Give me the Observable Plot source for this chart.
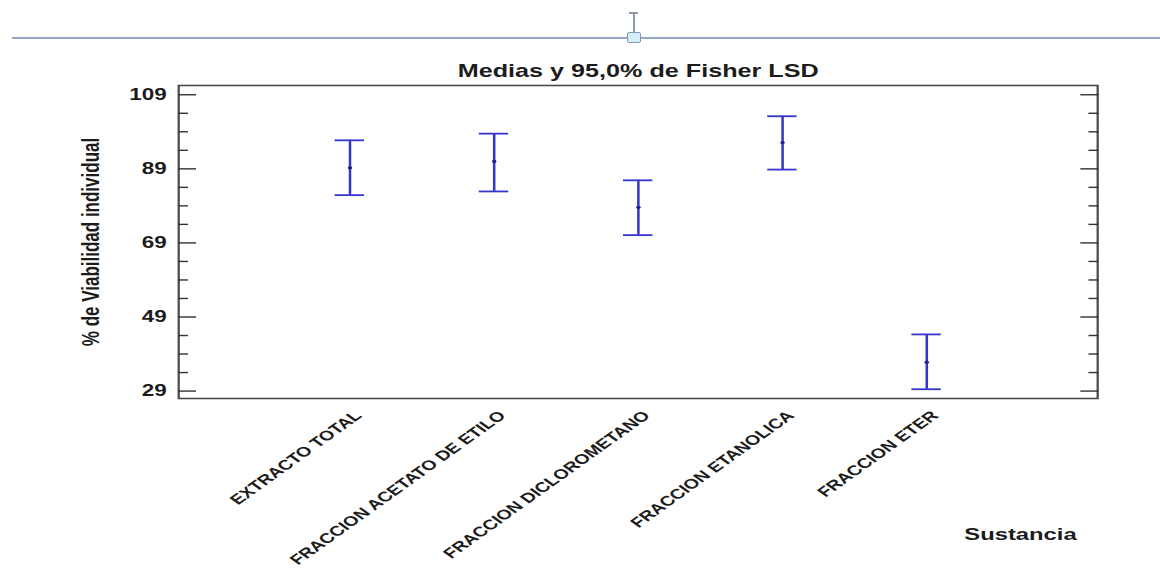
<!DOCTYPE html>
<html>
<head>
<meta charset="utf-8">
<script src="https://cdn.jsdelivr.net/npm/d3@7"></script>
<script src="https://cdn.jsdelivr.net/npm/@observablehq/plot@0.6"></script>
<style>
  html, body { margin: 0; padding: 0; background: #fff; }
  #page { position: relative; width: 1160px; height: 568px; overflow: hidden; background: #fff; }
  #chart { position: absolute; left: 0; top: 0; }
  /* document ruler with its resize handle */
  .ruler { position: absolute; left: 12px; right: 0; top: 37px; height: 2px; background: #93a9c0; }
  .stem { position: absolute; left: 633px; top: 12px; width: 1.5px; height: 20px; background: #8a9aaa; }
  .stemcap { position: absolute; left: 629px; top: 12px; width: 9px; height: 1.5px; background: #8a9aaa; }
  .handle { position: absolute; left: 627px; top: 32px; width: 12px; height: 9px; background: #d6ecf8; border: 1.5px solid #8098b0; border-radius: 2px; }
</style>
</head>
<body>
<div id="page">
  <div id="chart"></div>
  <div class="ruler"></div>
  <div class="stem"></div>
  <div class="stemcap"></div>
  <div class="handle"></div>
</div>
<script>
// Means and 95% Fisher LSD intervals of individual viability by substance
const categories = ["EXTRACTO TOTAL", "FRACCION ACETATO DE ETILO", "FRACCION DICLOROMETANO", "FRACCION ETANOLICA", "FRACCION ETER"];
const means = [89.3, 91.0, 78.6, 96.1, 36.8];
const lower = [81.9, 82.9, 71.1, 88.8, 29.5];
const upper = [96.7, 98.5, 85.9, 103.2, 44.3];

const majorTicks = [29, 49, 69, 89, 109];
const minorTicks = [34, 39, 44, 54, 59, 64, 74, 79, 84, 94, 99, 104];

const title = "Medias y 95,0% de Fisher LSD";
const yTitle = "% de Viabilidad individual";
const xTitle = "Sustancia";

const rows = categories.map((name, i) => ({name, mean: means[i], lo: lower[i], hi: upper[i]}));

// the chart is drawn narrow and widened horizontally, like the stretched graphic
const stretch = 1.4;
const W = 1160 / stretch;
const blue = "#3636cc";
const ink = "#1c1c1c";

const plot = Plot.plot({
  width: W,
  height: 568,
  marginLeft: 178 / stretch,
  marginRight: 63 / stretch,
  marginTop: 85,
  marginBottom: 170,
  style: {fontFamily: "'Liberation Sans', Arial, sans-serif", background: "transparent", color: ink},
  // narrow bands: the band width is the width of the interval caps
  x: {type: "band", domain: categories, paddingInner: 0.8, paddingOuter: 1.074},
  y: {domain: [27, 111.5]},
  marks: [
    Plot.frame({stroke: "#4a4a4a", strokeWidth: 1.6}),
    // y axis: major ticks with labels, then minor ticks, and the mirrored ticks on the right
    Plot.axisY({anchor: "left", ticks: majorTicks, tickSize: -12.9, tickPadding: 21.5, tickFormat: d => String(d),
      fontSize: 16, fontWeight: "bold", stroke: "#333", strokeWidth: 1.4, label: null}),
    Plot.axisY({anchor: "left", ticks: minorTicks, tickSize: -7.1, tickFormat: () => "",
      stroke: "#333", strokeWidth: 1.4, label: null}),
    Plot.axisY({anchor: "right", ticks: majorTicks, tickSize: -12.9, tickFormat: () => "",
      stroke: "#333", strokeWidth: 1.4, label: null}),
    Plot.axisY({anchor: "right", ticks: minorTicks, tickSize: -7.1, tickFormat: () => "",
      stroke: "#333", strokeWidth: 1.4, label: null}),
    // x axis: rotated category labels, no tick marks
    Plot.axisX({anchor: "bottom", tickSize: 0, tickRotate: -45, tickPadding: 18, dx: 9,
      lineAnchor: "bottom", fontSize: 14, fontWeight: "bold", label: null}),
    // LSD intervals
    Plot.ruleX(rows, {x: "name", y1: "lo", y2: "hi", stroke: blue, strokeWidth: 1.8}),
    Plot.tickY(rows, {x: "name", y: "lo", stroke: blue, strokeWidth: 1.8}),
    Plot.tickY(rows, {x: "name", y: "hi", stroke: blue, strokeWidth: 1.8}),
    Plot.dot(rows, {x: "name", y: "mean", r: 1.6, fill: "#20208a", stroke: null}),
    // titles
    Plot.text([title], {frameAnchor: "top", dy: -8.5, lineAnchor: "bottom", fontSize: 18, fontWeight: "bold", fill: ink}),
    Plot.text([yTitle], {frameAnchor: "left", rotate: -90, dx: -57, lineAnchor: "bottom", fontSize: 17,
      fontWeight: "bold", fill: ink, textAnchor: "middle"}),
    Plot.text([xTitle], {frameAnchor: "bottom-right", dx: -15, dy: 142, lineAnchor: "bottom", textAnchor: "end",
      fontSize: 17, fontWeight: "bold", fill: ink})
  ]
});

plot.style.transform = `scaleX(${stretch})`;
plot.style.transformOrigin = "0 0";
plot.style.maxWidth = "none";
plot.style.overflow = "visible";
document.getElementById("chart").appendChild(plot);
</script>
</body>
</html>
